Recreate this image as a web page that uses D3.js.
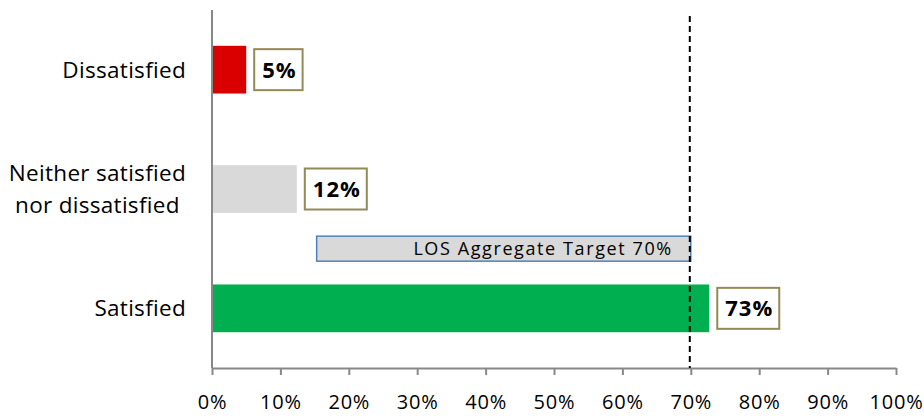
<!DOCTYPE html>
<html>
<head>
<meta charset="utf-8">
<script src="https://cdn.jsdelivr.net/npm/d3@7"></script>
<style>
  body { margin: 0; background: #fff; }
  text { font-family: "Open Sans", "Liberation Sans", Arial, sans-serif; }
</style>
</head>
<body>
<div id="chart"></div>
<script>
// data
const categories = ["Dissatisfied", "Neither satisfied\nnor dissatisfied", "Satisfied"];
const values = [0.05, 0.124, 0.727];
const valueLabels = ["5%", "12%", "73%"];
const barColors = ["#DA0000", "#D9D9D9", "#00B050"];
const target = 0.70;
const targetLabel = "LOS Aggregate Target 70%";
const targetBoxStart = 0.153;
const xTicks = [0, 0.1, 0.2, 0.3, 0.4, 0.5, 0.6, 0.7, 0.8, 0.9, 1.0];

const width = 924, height = 419;
const margin = { top: 10, right: 28, bottom: 51, left: 212 };

const svg = d3.select("#chart").append("svg")
  .attr("width", width)
  .attr("height", height);

const x = d3.scaleLinear().domain([0, 1]).range([margin.left, width - margin.right]);
const y = d3.scaleBand().domain(categories).range([margin.top, height - margin.bottom]).paddingInner(0.6).paddingOuter(0.3);

// x axis
const xAxis = svg.append("g")
  .attr("transform", `translate(0,${height - margin.bottom})`)
  .call(d3.axisBottom(x).tickValues(xTicks).tickFormat(d3.format(".0%")).tickSize(7).tickSizeOuter(0));
xAxis.select(".domain").attr("stroke", "#888").attr("stroke-width", 2);
xAxis.selectAll(".tick line").attr("stroke", "#888").attr("stroke-width", 2);
xAxis.selectAll(".tick text")
  .attr("y", 27)
  .attr("font-size", 20)
  .attr("letter-spacing", 0.8)
  .attr("font-family", "Open Sans, Liberation Sans, Arial, sans-serif")
  .attr("fill", "#000");

// y axis line
svg.append("line")
  .attr("x1", x(0)).attr("x2", x(0))
  .attr("y1", margin.top).attr("y2", height - margin.bottom)
  .attr("stroke", "#888").attr("stroke-width", 2);

// bars
svg.selectAll(".bar")
  .data(categories)
  .join("rect")
  .attr("class", "bar")
  .attr("x", x(0) + 1)
  .attr("y", d => y(d))
  .attr("width", (d, i) => x(values[i]) - x(0) - 1)
  .attr("height", y.bandwidth())
  .attr("fill", (d, i) => barColors[i]);

// value label boxes
const lab = svg.selectAll(".vlab")
  .data(categories)
  .join("g")
  .attr("class", "vlab")
  .attr("transform", (d, i) => `translate(${x(values[i]) + 8},${y(d) + y.bandwidth() / 2})`);

lab.append("text")
  .attr("x", 8)
  .attr("dy", "0.36em")
  .attr("font-size", 22)
  .attr("letter-spacing", 1)
  .attr("font-weight", "bold")
  .text((d, i) => valueLabels[i]);

lab.each(function () {
  const g = d3.select(this);
  const w = g.select("text").node().getComputedTextLength();
  g.insert("rect", "text")
    .attr("x", 0).attr("y", -20.5)
    .attr("width", w + 14).attr("height", 41)
    .attr("fill", "#fff")
    .attr("stroke", "#948A54")
    .attr("stroke-width", 2);
});

// category labels
svg.selectAll(".cat")
  .data(categories)
  .join("text")
  .attr("class", "cat")
  .attr("font-size", 22.5)
  .attr("letter-spacing", 0.3)
  .attr("fill", "#000")
  .each(function (d) {
    const t = d3.select(this);
    const lines = d.split("\n");
    const cy = y(d) + y.bandwidth() / 2;
    const lh = 32;
    lines.forEach((l, j) => {
      t.append("tspan")
        .attr("y", cy + (j - (lines.length - 1) / 2) * lh)
        .attr("dy", "0.36em")
        .text(l);
    });
    const widths = t.selectAll("tspan").nodes().map(n => n.getComputedTextLength());
    const maxW = d3.max(widths);
    const right = x(0) - 26;
    t.selectAll("tspan")
      .attr("text-anchor", "middle")
      .attr("x", right - maxW / 2);
  });

// target box
const tb = svg.append("g");
const tbY = (y(categories[1]) + y.bandwidth() + y(categories[2])) / 2;
tb.append("rect")
  .attr("x", x(targetBoxStart))
  .attr("y", tbY - 12.5)
  .attr("width", x(target) - x(targetBoxStart))
  .attr("height", 25)
  .attr("fill", "#D9D9D9")
  .attr("stroke", "#4F81BD")
  .attr("stroke-width", 1.5);
tb.append("text")
  .attr("x", x(target) - 18)
  .attr("y", tbY)
  .attr("dy", "0.36em")
  .attr("text-anchor", "end")
  .attr("font-size", 18)
  .attr("letter-spacing", 1.6)
  .attr("fill", "#000")
  .text(targetLabel);

// target line
svg.append("line")
  .attr("x1", x(target) - 1).attr("x2", x(target) - 1)
  .attr("y1", 16).attr("y2", height - margin.bottom)
  .attr("stroke", "#000")
  .attr("stroke-width", 2)
  .attr("stroke-dasharray", "6,4");
</script>
</body>
</html>
